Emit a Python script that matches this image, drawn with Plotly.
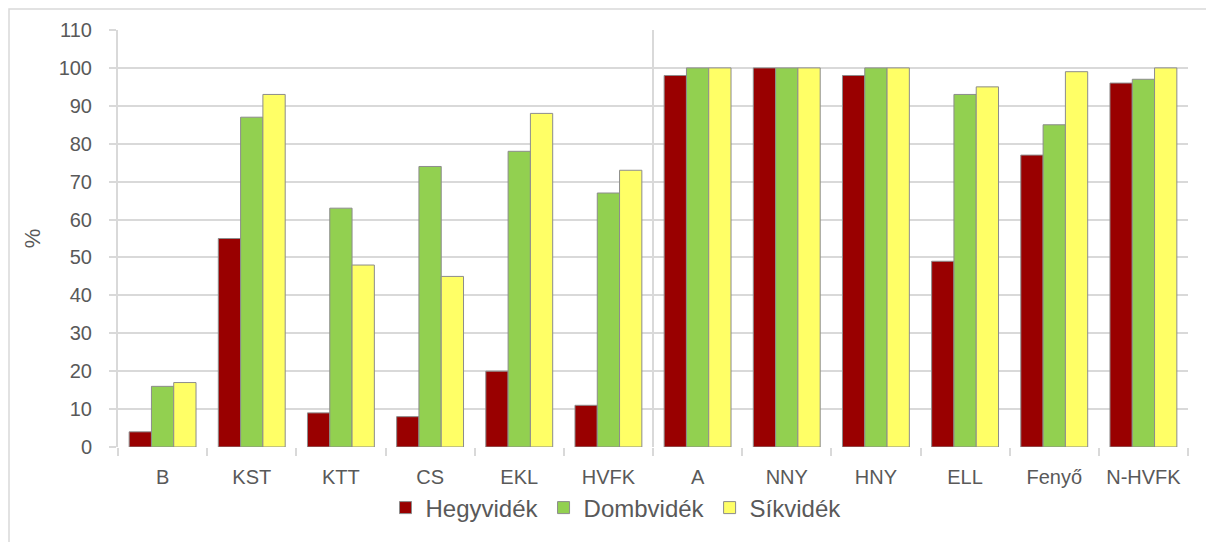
import plotly.graph_objects as go

categories = ["B", "KST", "KTT", "CS", "EKL", "HVFK", "A", "NNY", "HNY", "ELL", "Fenyő", "N-HVFK"]
hegyvidek = [4, 55, 9, 8, 20, 11, 98, 100, 98, 49, 77, 96]
dombvidek = [16, 87, 63, 74, 78, 67, 100, 100, 100, 93, 85, 97]
sikvidek = [17, 93, 48, 45, 88, 73, 100, 100, 100, 95, 99, 100]
y_ticks = list(range(0, 111, 10))

series = [
    ("Hegyvidék", hegyvidek, "#990000"),
    ("Dombvidék", dombvidek, "#92D050"),
    ("Síkvidék", sikvidek, "#FFFF66"),
]

font_family = "Liberation Sans, Arial, sans-serif"

W, H = 1206, 534
L, R, T, B = 110, 26, 22, 95
PW, PH = W - L - R, H - T - B

fig = go.Figure()
for name, vals, color in series:
    fig.add_trace(go.Bar(
        x=categories, y=vals, name=name,
        marker=dict(color=color, line=dict(color="#8c8c8c", width=1)),
    ))

fig.update_layout(
    width=W, height=H,
    margin=dict(l=L, r=R, t=T, b=B),
    paper_bgcolor="white", plot_bgcolor="white",
    barmode="group", bargap=0.25, bargroupgap=0,
    font=dict(family=font_family, color="#595959", size=20),
    legend=dict(
        orientation="h", x=(608 - L) / PW, xanchor="center",
        y=(PH + T - 500) / PH, yanchor="middle",
        font=dict(size=24, color="#595959"), traceorder="normal",
    ),
    showlegend=True,
)

fig.update_xaxes(
    type="category", showgrid=False, showline=False,
    ticks="outside", tickson="boundaries", ticklen=8, tickcolor="#d9d9d9", tickwidth=2,
    tickfont=dict(size=20, color="#595959"), ticklabelstandoff=16,
)
fig.update_yaxes(
    range=[0, 110], tickvals=y_ticks, showgrid=True, gridcolor="#d9d9d9", gridwidth=1.5,
    showline=True, linecolor="#d9d9d9", linewidth=2, zeroline=False,
    ticks="outside", ticklen=7, tickcolor="#d9d9d9", tickwidth=2,
    tickfont=dict(size=20, color="#595959"), ticklabelstandoff=13,
    title=dict(text="%", font=dict(size=22, color="#595959"), standoff=12),
)

# separator line between HVFK and A
fig.add_shape(type="line", xref="x", yref="y", x0=5.5, x1=5.5, y0=0, y1=110,
              line=dict(color="#d9d9d9", width=2), layer="below")
# chart border
fig.add_shape(type="rect", xref="paper", yref="paper",
              x0=(1 - L) / PW, x1=(W + 30 - L) / PW,
              y0=(PH + T - (H + 30)) / PH, y1=(PH + T - 1) / PH,
              line=dict(color="#d9d9d9", width=1.5), fillcolor="rgba(0,0,0,0)")

fig.write_html("out.html")
